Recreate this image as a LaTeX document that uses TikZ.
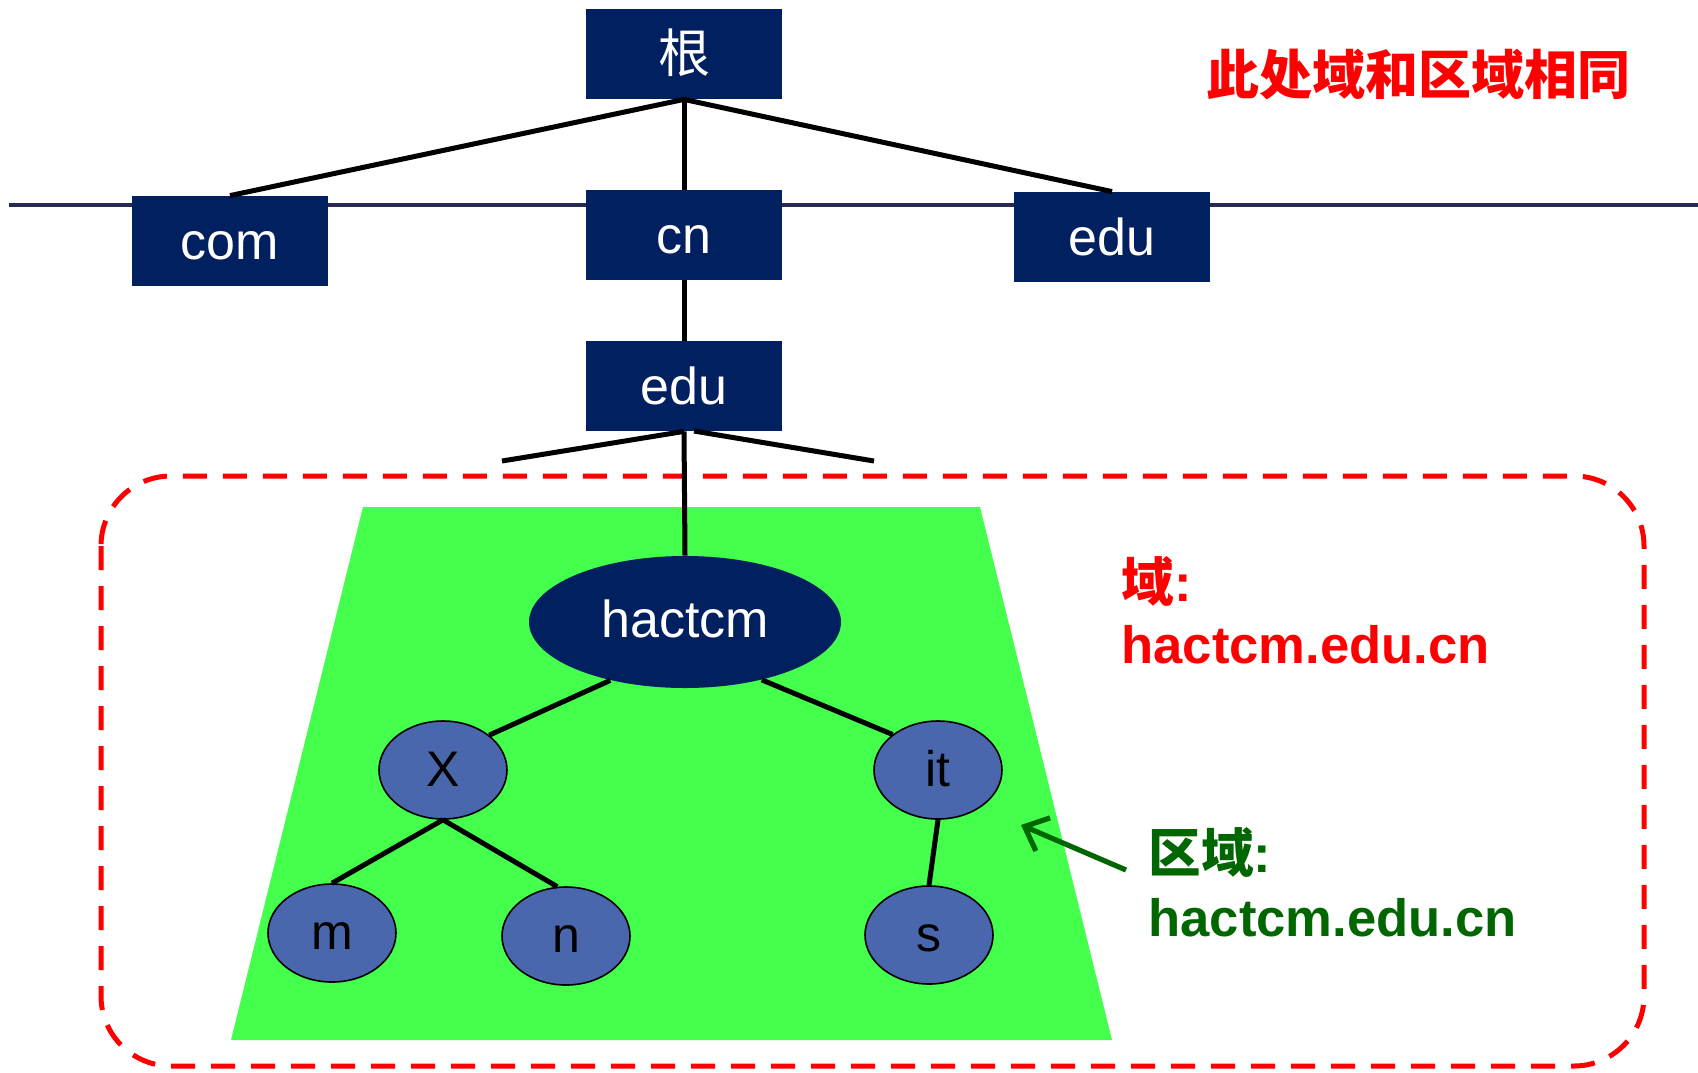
\documentclass[tikz,border=0pt]{standalone}
\usepackage{fontspec}
\setmainfont{Liberation Sans}
\newfontfamily\cjk{Noto Sans CJK SC}
\usetikzlibrary{arrows.meta,shapes.geometric}
\definecolor{navy}{RGB}{0,32,96}
\definecolor{ellblue}{RGB}{74,103,173}
\definecolor{grn}{RGB}{68,255,76}
\definecolor{dgreen}{RGB}{0,102,0}
\definecolor{linecol}{RGB}{40,42,84}
\begin{document}
\begin{tikzpicture}[x=0.5pt,y=-0.5pt,
  box/.style={rectangle,fill=navy,text=white,minimum width=98pt,minimum height=45pt,inner sep=0pt,text height=20pt,text depth=2pt,font=\fontsize{26}{30}\selectfont},
  bigell/.style={ellipse,fill=navy,text=white,minimum width=156pt,minimum height=66pt,inner sep=0pt,text height=17pt,text depth=2pt,font=\fontsize{26}{30}\selectfont},
  leaf/.style={ellipse,draw=black,line width=0.8pt,fill=ellblue,minimum width=64pt,minimum height=49pt,inner sep=0pt,text height=17pt,text depth=1pt,font=\fontsize{25}{29}\selectfont},
  conn/.style={line width=2.5pt,black},
  lbl/.style={anchor=base west,inner sep=0pt,font=\fontsize{26.3}{30}\selectfont\bfseries}
]
\useasboundingbox (0,0) rectangle (1698,1072);
% background shapes
\draw[line width=1.7pt,linecol] (9,205) -- (1698,205);
\draw[red,line width=2.5pt,dash pattern=on 12pt off 8pt,rounded corners=35pt] (101,476) rectangle (1644,1066);
\fill[grn] (363,507) -- (980,507) -- (1112,1040) -- (231,1040) -- cycle;
% nodes
\node[box] (root) at (684,54) {\cjk 根};
\node[box] (com) at (230,241) {com};
\node[box] (cn) at (684,235) {cn};
\node[box] (edu1) at (1112,237) {edu};
\node[box] (edu2) at (684,386) {edu};
\node[bigell] (hac) at (685,622) {hactcm};
\node[leaf] (X) at (443,770) {X};
\node[leaf] (it) at (938,770) {it};
\node[leaf] (m) at (332,933) {m};
\node[leaf] (n) at (566,936) {n};
\node[leaf] (s) at (929,935) {s};
\coordinate (bl) at (502,461);
\coordinate (br) at (874,461);
\coordinate (bs) at (694,431);
\coordinate (arrS) at (1126,870);
\coordinate (arrE) at (1021,825);
% connectors
\draw[conn] (root.south) -- (com.north);
\draw[conn] (root.south) -- (edu1.north);
\draw[conn] (root.south) -- (cn.north);
\draw[conn] (cn.south) -- (edu2.north);
\draw[conn] (edu2.south) -- (bl);
\draw[conn] (bs) -- (br);
\draw[conn] (edu2.south) -- (hac.north);
\draw[conn] (hac.218) -- (X.37);
\draw[conn] (hac.323) -- (it.142);
\draw[conn] (X.south) -- (m.north);
\draw[conn] (X.south) -- (n.100);
\draw[conn] (it.south) -- (s.north);
\draw[dgreen,line width=2.6pt,-{Straight Barb[length=10pt,width=18pt]}] (arrS) -- (arrE);
% texts
\node[anchor=center,inner sep=0pt,text=red,font=\fontsize{26.5}{30}\selectfont\cjk\bfseries] (title) at (1418,74) {此处域和区域相同};
\node[lbl,text=red] (dlab) at (1121,601) {{\cjk 域}:};
\node[lbl,text=red] (dname) at (1121,663) {hactcm.edu.cn};
\node[lbl,text=dgreen] (zlab) at (1148,872) {{\cjk 区域}:};
\node[lbl,text=dgreen] (zname) at (1148,936) {hactcm.edu.cn};
\end{tikzpicture}
\end{document}
